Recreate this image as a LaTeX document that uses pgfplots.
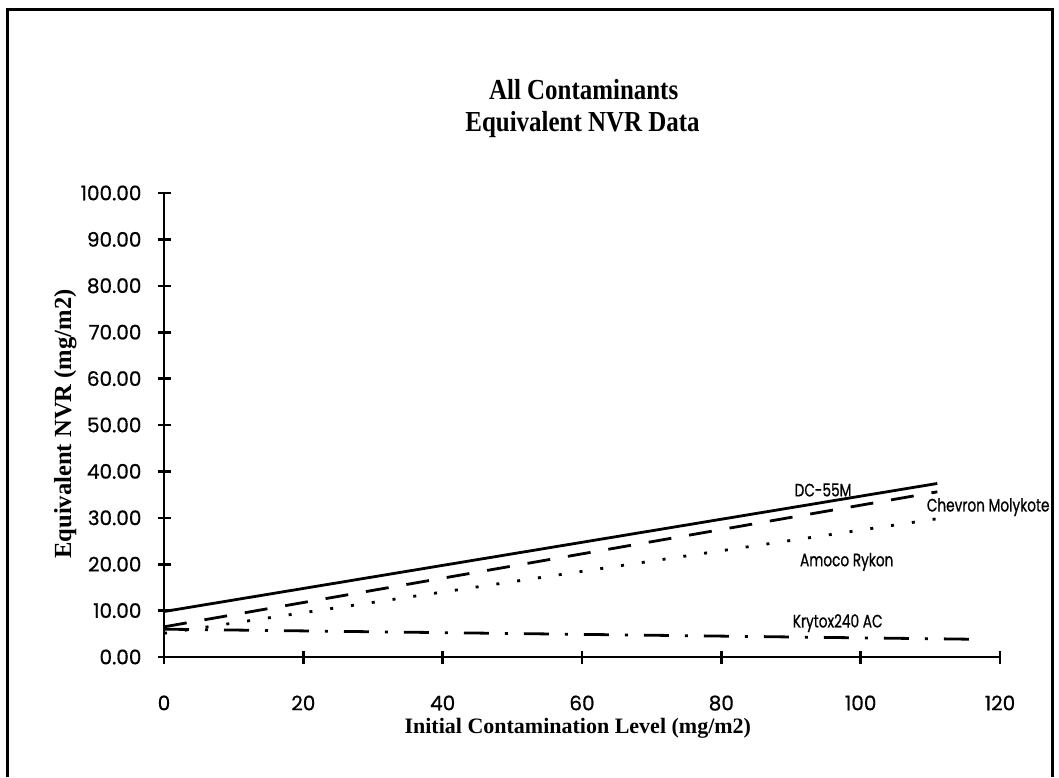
\documentclass[border=0pt]{standalone}
\usepackage{fontspec}
\usepackage{pgfplots}
\pgfplotsset{compat=1.18}
\setmainfont{Liberation Serif}
\newfontfamily\titlefont[FakeStretch=0.86]{Liberation Serif}
\newfontfamily\tickfont[FakeBold=0.8]{Poppins}
\newfontfamily\labfont[FakeStretch=0.76, FakeBold=0.8]{Poppins}
\begin{document}
\begin{tikzpicture}
\useasboundingbox (0pt,0pt) rectangle (529.5pt,388.5pt);
\draw[line width=1.5pt] (3.5pt,0pt) -- (3.5pt,383.5pt) -- (526pt,383.5pt) -- (526pt,0pt);
\begin{axis}[
  at={(82pt,60pt)}, anchor=south west,
  width=418pt, height=232pt, scale only axis,
  xmin=0, xmax=120, ymin=0, ymax=100,
  axis x line*=bottom, axis y line*=left,
  axis line style={line width=1.3pt},
  xtick={0,20,...,120}, ytick={0,10,...,100},
  tick align=center, major tick length=6.5pt,
  tick style={line width=1.3pt, black},
  ticklabel style={font=\tickfont\fontsize{10}{11}\selectfont},
  /pgf/number format/assume math mode=true,
  yticklabel style={/pgf/number format/fixed, /pgf/number format/fixed zerofill, /pgf/number format/precision=2, xshift=-4.5pt},
  xticklabel style={anchor=north, yshift=-12.5pt},
  clip=false,
]
\addplot[line width=1.4pt, black] coordinates {(0,9.8) (111,37.4)};
\addplot[line width=1.4pt, black, dash pattern=on 11.5pt off 9pt] coordinates {(0,6.5) (111,35.6)};
\addplot[line width=1.4pt, black, dash pattern=on 1.5pt off 9pt] coordinates {(0,5.1) (111,29.8)};
\addplot[line width=1.4pt, black, dash pattern=on 12.5pt off 8pt on 1.5pt off 8pt] coordinates {(0,6.0) (117.6,3.8)};
\node[font=\labfont\fontsize{9}{10}\selectfont] at (axis cs:94.6,36.0) {DC-55M};
\node[font=\labfont\fontsize{9}{10}\selectfont] at (axis cs:118.3,32.3) {Chevron Molykote};
\node[font=\labfont\fontsize{9}{10}\selectfont] at (axis cs:98.0,20.5) {Amoco Rykon};
\node[font=\labfont\fontsize{9}{10}\selectfont] at (axis cs:96.7,7.3) {Krytox240 AC};
\node[font=\titlefont\bfseries\fontsize{14.5}{16}\selectfont] at (axis description cs:0.502,1.222) {All Contaminants};
\node[font=\titlefont\bfseries\fontsize{14.5}{16}\selectfont] at (axis description cs:0.5006,1.147) {Equivalent NVR Data};
\node[font=\bfseries\fontsize{11}{13}\selectfont] at (axis description cs:0.495,-0.153) {Initial Contamination Level (mg/m2)};
\node[font=\bfseries\fontsize{12.3}{14}\selectfont, rotate=90] at (axis description cs:-0.118,0.502) {Equivalent NVR (mg/m2)};
\end{axis}
\end{tikzpicture}
\end{document}
